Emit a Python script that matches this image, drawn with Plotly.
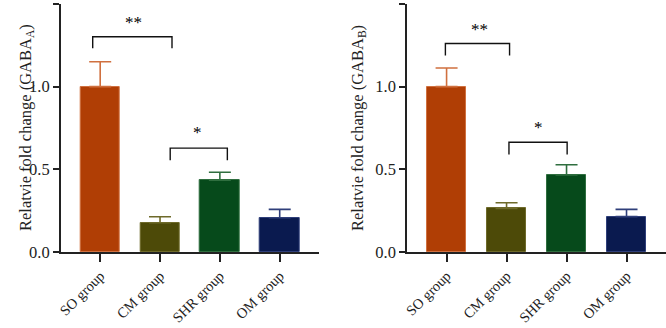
import plotly.graph_objects as go

groups = ["SO group", "CM group", "SHR group", "OM group"]
gaba_a = [1.0, 0.177, 0.435, 0.207]
gaba_a_err = [0.151, 0.036, 0.047, 0.051]
gaba_b = [1.0, 0.264, 0.466, 0.214]
gaba_b_err = [0.113, 0.034, 0.062, 0.044]

fill_colors = ["#B03E05", "#4D4A08", "#064A1B", "#0A1A4F"]
edge_colors = ["#D0703F", "#6E6A2A", "#2F6E3F", "#2F3F7A"]

# significance brackets (x in category index units, y in data units)
brA_1_x = [-0.125, -0.125, 1.2, 1.2]
brA_1_y = [1.232, 1.302, 1.302, 1.232]
brA_2_x = [1.17, 1.17, 2.125, 2.125]
brA_2_y = [0.555, 0.628, 0.628, 0.555]
brB_1_x = [-0.02, -0.02, 1.05, 1.05]
brB_1_y = [1.189, 1.261, 1.261, 1.189]
brB_2_x = [1.04, 1.04, 2.01, 2.01]
brB_2_y = [0.590, 0.664, 0.664, 0.590]
starsA = [("**", 0.55, 1.39), ("*", 1.62, 0.72)]
starsB = [("**", 0.55, 1.346), ("*", 1.53, 0.755)]

FONT = "Liberation Serif"
xidx = list(range(len(groups)))

fig = go.Figure()

def add_panel(vals, errs, xa, ya):
    for i in xidx:
        fig.add_trace(go.Bar(
            x=[i], y=[vals[i]], width=0.66,
            marker=dict(color=fill_colors[i], line=dict(color=edge_colors[i], width=1)),
            error_y=dict(type="data", symmetric=False, array=[errs[i]], arrayminus=[0],
                         color=edge_colors[i], thickness=1.6, width=11),
            xaxis=xa, yaxis=ya, showlegend=False,
        ))

add_panel(gaba_a, gaba_a_err, "x", "y")
add_panel(gaba_b, gaba_b_err, "x2", "y2")

for bx, by, xa, ya in [(brA_1_x, brA_1_y, "x", "y"), (brA_2_x, brA_2_y, "x", "y"),
                       (brB_1_x, brB_1_y, "x2", "y2"), (brB_2_x, brB_2_y, "x2", "y2")]:
    fig.add_trace(go.Scatter(x=bx, y=by, mode="lines", line=dict(color="#111111", width=1.4),
                             xaxis=xa, yaxis=ya, showlegend=False, hoverinfo="skip"))

ann = []
for txt, sx, sy in starsA:
    ann.append(dict(text=txt, x=sx, y=sy, xref="x", yref="y", showarrow=False,
                    font=dict(family=FONT, size=17, color="#000000"), yanchor="middle"))
for txt, sx, sy in starsB:
    ann.append(dict(text=txt, x=sx, y=sy, xref="x2", yref="y2", showarrow=False,
                    font=dict(family=FONT, size=17, color="#000000"), yanchor="middle"))
ann.append(dict(text="Relatvie fold change (GABA<sub>A</sub>)", x=14/666, y=0.5, xref="paper", yref="paper",
                textangle=-90, showarrow=False, font=dict(family=FONT, size=16.5, color="#222")))
ann.append(dict(text="Relatvie fold change (GABA<sub>B</sub>)", x=358/666, y=0.5, xref="paper", yref="paper",
                textangle=-90, showarrow=False, font=dict(family=FONT, size=16.5, color="#222")))

xax = dict(tickmode="array", tickvals=xidx, ticktext=groups, tickangle=-45,
           ticks="outside", ticklen=8, tickwidth=1.5, tickcolor="#222",
           showline=True, linecolor="#222", linewidth=1.5, showgrid=False, zeroline=False,
           tickfont=dict(family=FONT, size=14.5, color="#222"), range=[-0.66, 3.65], automargin=False)
yax = dict(range=[0, 1.5], tickvals=[0, 0.5, 1.0, 1.5], ticktext=["0.0", "0.5", "1.0", "1.5"],
           ticks="outside", ticklen=6, tickwidth=1.5, tickcolor="#222",
           showline=True, linecolor="#222", linewidth=1.5, showgrid=False, zeroline=False,
           tickfont=dict(family=FONT, size=16.5, color="#222"), automargin=False)

fig.update_layout(
    width=666, height=328,
    margin=dict(l=0, r=0, t=4, b=76),
    plot_bgcolor="white", paper_bgcolor="white",
    xaxis=dict(xax, domain=[60.7/666, 318.6/666], anchor="y"),
    yaxis=dict(yax, anchor="x"),
    xaxis2=dict(xax, domain=[407/666, 665.5/666], anchor="y2"),
    yaxis2=dict(yax, anchor="x2"),
    annotations=ann,
    bargap=0,
)

fig.write_html("out.html")
